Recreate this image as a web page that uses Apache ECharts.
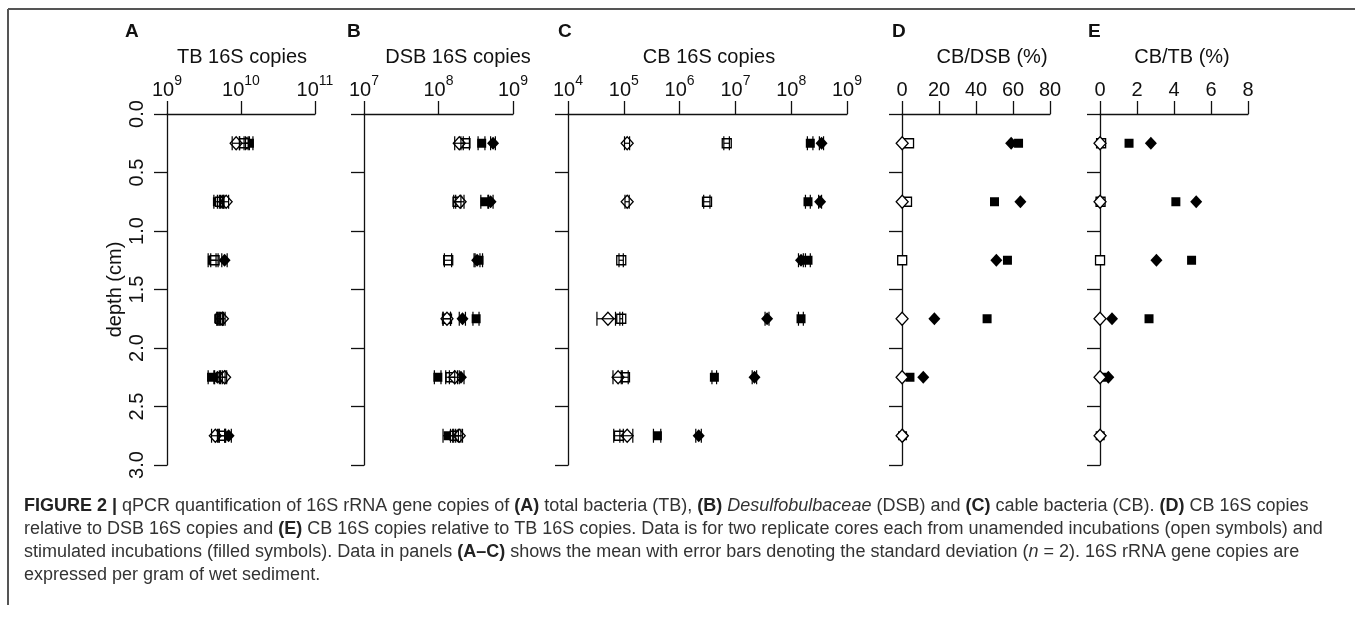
<!DOCTYPE html>
<html>
<head>
<meta charset="utf-8">
<script src="https://cdn.jsdelivr.net/npm/echarts@6/dist/echarts.min.js"></script>
<style>
html, body { margin: 0; padding: 0; background: #fff; }
#main { width: 1355px; height: 621px; }
</style>
</head>
<body>
<div id="main"></div>
<script>
// depth of each slice (cm)
const depth = [0.25, 0.75, 1.25, 1.75, 2.25, 2.75];

// A: total bacteria 16S copies (mean, sd); null = no data
const tbOpenSq = [1.1e10, 5.2e9, 4.4e9, 5.2e9, 5.6e9, 5.4e9];
const tbOpenSqSd = [1.5e9, 4e8, 5e8, 4e8, 5e8, 6e8];
const tbOpenDi = [8.6e9, 6.3e9, null, 5.6e9, 6.0e9, 4.5e9];
const tbOpenDiSd = [1.0e9, 5e8, null, 5e8, 4e8, 5e8];
const tbFillSq = [1.3e10, 4.8e9, 4.1e9, 5.0e9, 4.0e9, 5.6e9];
const tbFillSqSd = [1.5e9, 5e8, 5e8, 3e8, 4e8, 5e8];
const tbFillDi = [1.2e10, 5.5e9, 6.0e9, 5.4e9, 4.8e9, 6.8e9];
const tbFillDiSd = [1.0e9, 4e8, 5e8, 4e8, 5e8, 6e8];

// B: Desulfobulbaceae 16S copies
const dsbOpenSq = [2.3e8, 1.8e8, 1.35e8, 1.3e8, 1.45e8, 1.65e8];
const dsbOpenSqSd = [3e7, 2e7, 1.5e7, 1.5e7, 2e7, 2e7];
const dsbOpenDi = [1.9e8, 1.95e8, null, 1.3e8, 1.65e8, 1.9e8];
const dsbOpenDiSd = [2.5e7, 2.5e7, null, 1.5e7, 2.5e7, 2e7];
const dsbFillSq = [3.8e8, 4.2e8, 3.5e8, 3.2e8, 9.8e7, 1.35e8];
const dsbFillSqSd = [4e7, 5e7, 4e7, 3e7, 1e7, 2e7];
const dsbFillDi = [5.4e8, 5.0e8, 3.3e8, 2.1e8, 2.0e8, 1.8e8];
const dsbFillDiSd = [4e7, 4e7, 3e7, 2e7, 2e7, 2e7];

// C: cable bacteria 16S copies
const cbOpenSq = [7.0e6, 3.1e6, 9.0e4, 9.0e4, 1.05e5, 8.2e4];
const cbOpenSqSd = [8e5, 4e5, 8e3, 5e3, 1.5e4, 1.6e4];
const cbOpenDi = [1.15e5, 1.15e5, null, 5.2e4, 7.9e4, 1.15e5];
const cbOpenDiSd = [1.2e4, 1e4, null, 1.9e4, 1.5e4, 3.0e4];
const cbFillSq = [2.2e8, 2.0e8, 2.0e8, 1.5e8, 4.2e6, 4.0e5];
const cbFillSqSd = [2.5e7, 2e7, 2e7, 1.5e7, 4e5, 6e4];
const cbFillDi = [3.5e8, 3.3e8, 1.5e8, 3.7e7, 2.2e7, 2.2e6];
const cbFillDiSd = [3e7, 2e7, 1.5e7, 3e6, 2e6, 2.5e5];

// D: CB/DSB (%)
const dOpenSq = [3.8, 2.7, 0.1, null, null, null];
const dOpenDi = [0.1, 0.1, null, 0.05, 0.05, 0.06];
const dFillSq = [63, 50, 57, 46, 4.3, 0.3];
const dFillDi = [59, 64, 51, 17.5, 11.5, 0.6];

// E: CB/TB (%)
const eOpenSq = [0.06, 0.03, 0.002, null, null, null];
const eOpenDi = [0.001, 0.002, null, 0.001, 0.001, 0.002];
const eFillSq = [1.57, 4.1, 4.95, 2.65, 0.1, 0.01];
const eFillDi = [2.75, 5.2, 3.05, 0.65, 0.45, 0.03];

const depthTicks = ['0.0', '0.5', '1.0', '1.5', '2.0', '2.5', '3.0'];

const FONT = 'Liberation Sans, Arial, sans-serif';
const INK = '#111';

// panel layout
const panels = [
  { letter: 'A', title: 'TB 16S copies', left: 167, width: 148, log: true, min: 1e9, max: 1e11, titleX: 242, letterX: 125,
    series: [[tbFillSq, tbFillSqSd], [tbFillDi, tbFillDiSd], [tbOpenSq, tbOpenSqSd], [tbOpenDi, tbOpenDiSd]] },
  { letter: 'B', title: 'DSB 16S copies', left: 364, width: 149, log: true, min: 1e7, max: 1e9, titleX: 458, letterX: 347,
    series: [[dsbFillSq, dsbFillSqSd], [dsbFillDi, dsbFillDiSd], [dsbOpenSq, dsbOpenSqSd], [dsbOpenDi, dsbOpenDiSd]] },
  { letter: 'C', title: 'CB 16S copies', left: 568, width: 279, log: true, min: 1e4, max: 1e9, titleX: 709, letterX: 558,
    series: [[cbFillSq, cbFillSqSd], [cbFillDi, cbFillDiSd], [cbOpenSq, cbOpenSqSd], [cbOpenDi, cbOpenDiSd]] },
  { letter: 'D', title: 'CB/DSB (%)', left: 902, width: 148, log: false, min: 0, max: 80, interval: 20, titleX: 992, letterX: 892,
    series: [[dFillSq], [dFillDi], [dOpenSq], [dOpenDi]] },
  { letter: 'E', title: 'CB/TB (%)', left: 1100, width: 148, log: false, min: 0, max: 8, interval: 2, titleX: 1182, letterX: 1088,
    series: [[eFillSq], [eFillDi], [eOpenSq], [eOpenDi]] }
];

// filled square, filled diamond, open square, open diamond
const marks = [
  { symbol: 'rect', size: 9, fill: '#000' },
  { symbol: 'diamond', size: [12, 13], fill: '#000' },
  { symbol: 'rect', size: 9, fill: '#fff' },
  { symbol: 'diamond', size: [12, 13], fill: '#fff' }
];

function errBar(params, api) {
  const m = api.value(0), sd = api.value(1), d = api.value(2);
  const lo = api.coord([m - sd, d]);
  const hi = api.coord([m + sd, d]);
  const h = 7;
  const st = { stroke: '#000', lineWidth: 1.2 };
  return {
    type: 'group',
    children: [
      { type: 'line', shape: { x1: lo[0], y1: lo[1], x2: hi[0], y2: hi[1] }, style: st },
      { type: 'line', shape: { x1: lo[0], y1: lo[1] - h, x2: lo[0], y2: lo[1] + h }, style: st },
      { type: 'line', shape: { x1: hi[0], y1: hi[1] - h, x2: hi[0], y2: hi[1] + h }, style: st }
    ]
  };
}

const grids = [], xAxes = [], yAxes = [], series = [], graphics = [];

panels.forEach(function (p, i) {
  grids.push({ left: p.left, width: p.width, top: 114, height: 351 });
  const axisLine = { show: true, lineStyle: { color: INK, width: 1.3 } };
  const axisTick = { show: true, length: 13, lineStyle: { color: INK, width: 1.3 } };
  xAxes.push({
    gridIndex: i, position: 'top', type: p.log ? 'log' : 'value', logBase: 10,
    min: p.min, max: p.max, interval: p.interval,
    axisLine: axisLine, axisTick: axisTick, splitLine: { show: false },
    axisLabel: {
      margin: 14, color: INK, fontFamily: FONT, fontSize: 20, showMinLabel: true, showMaxLabel: true,
      formatter: p.log ? function (v) { return '{b|10}{s|' + Math.round(Math.log10(v)) + '}'; } : null,
      rich: {
        b: { fontSize: 20, fontFamily: FONT, color: INK, lineHeight: 26, verticalAlign: 'bottom' },
        s: { fontSize: 14, fontFamily: FONT, color: INK, lineHeight: 26, verticalAlign: 'top' }
      }
    }
  });
  yAxes.push({
    gridIndex: i, type: 'value', inverse: true, min: 0, max: 3, interval: 0.5,
    axisLine: axisLine, axisTick: axisTick, splitLine: { show: false },
    name: i === 0 ? 'depth (cm)' : '', nameLocation: 'middle', nameRotate: 90, nameGap: 42,
    nameTextStyle: { fontFamily: FONT, fontSize: 20, color: INK },
    axisLabel: {
      show: i === 0, rotate: 90, margin: 20, color: INK, fontFamily: FONT, fontSize: 20,
      formatter: function (v) { return depthTicks[Math.round(v * 2)]; }
    }
  });

  p.series.forEach(function (s, k) {
    const mk = marks[k];
    series.push({
      type: 'scatter', xAxisIndex: i, yAxisIndex: i, z: 3 + k, silent: true,
      symbol: mk.symbol, symbolSize: mk.size,
      itemStyle: { color: mk.fill, borderColor: '#000', borderWidth: mk.fill === '#fff' ? 1.3 : 0, opacity: 1 },
      data: s[0].map(function (v, j) { return v == null ? ['-', depth[j]] : [v, depth[j]]; })
    });
    if (s[1]) {
      // error bars drawn over the symbols
      const bars = [];
      s[0].forEach(function (v, j) { if (v != null) bars.push([v, s[1][j], depth[j]]); });
      series.push({
        type: 'custom', xAxisIndex: i, yAxisIndex: i, z: 10, silent: true,
        renderItem: errBar, encode: { x: 0, y: 2 },
        data: bars
      });
    }
  });

  graphics.push({ type: 'text', left: p.letterX, top: 22,
    style: { text: p.letter, font: 'bold 19px ' + FONT, fill: INK } });
  graphics.push({ type: 'text', x: p.titleX, y: 57,
    style: { text: p.title, font: '20px ' + FONT, fill: INK, align: 'center', verticalAlign: 'middle' } });
});

// frame lines
graphics.push({ type: 'line', shape: { x1: 8, y1: 9, x2: 1355, y2: 9 }, style: { stroke: '#555', lineWidth: 2 } });
graphics.push({ type: 'line', shape: { x1: 8, y1: 9, x2: 8, y2: 605 }, style: { stroke: '#555', lineWidth: 2 } });

// caption
const caption = [
  '{b|FIGURE 2 |} qPCR quantification of 16S rRNA gene copies of {b|(A)} total bacteria (TB), {b|(B)} {i|Desulfobulbaceae} (DSB) and {b|(C)} cable bacteria (CB). {b|(D)} CB 16S copies',
  'relative to DSB 16S copies and {b|(E)} CB 16S copies relative to TB 16S copies. Data is for two replicate cores each from unamended incubations (open symbols) and',
  'stimulated incubations (filled symbols). Data in panels {b|(A–C)} shows the mean with error bars denoting the standard deviation ({i|n} = 2). 16S rRNA gene copies are',
  'expressed per gram of wet sediment.'
];
caption.forEach(function (line, j) {
  graphics.push({ type: 'text', x: 24, y: 506 + j * 23,
    style: {
      text: line, font: '18px ' + FONT, fill: '#333', verticalAlign: 'middle',
      rich: {
        b: { fontWeight: 'bold', fontSize: 18, fontFamily: FONT, fill: '#222' },
        i: { fontStyle: 'italic', fontSize: 18, fontFamily: FONT, fill: '#333' }
      }
    } });
});

const myChart = echarts.init(document.getElementById('main'));
myChart.setOption({
  animation: false,
  backgroundColor: '#fff',
  textStyle: { fontFamily: FONT },
  grid: grids,
  xAxis: xAxes,
  yAxis: yAxes,
  series: series,
  graphic: graphics
});
</script>
</body>
</html>
